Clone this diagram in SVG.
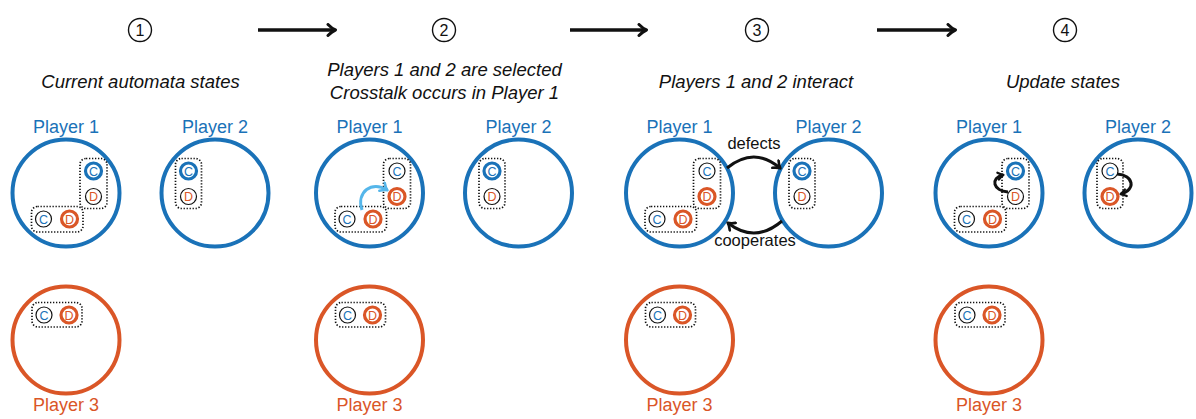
<svg xmlns="http://www.w3.org/2000/svg" width="1196" height="419" viewBox="0 0 1196 419">
  <style>
    .bg { fill: #ffffff; }
    .p1, .p2 { fill: none; stroke: #1a72b8; stroke-width: 4; }
    .p3 { fill: none; stroke: #da5627; stroke-width: 4; }
    .lblB { font-family: "Liberation Sans", Arial, sans-serif; font-size: 18px; fill: #1a72b8; text-anchor: middle; }
    .lblO { font-family: "Liberation Sans", Arial, sans-serif; font-size: 18px; fill: #da5627; text-anchor: middle; }
    .cap { font-family: "Liberation Sans", Arial, sans-serif; font-size: 18.5px; font-style: italic; fill: #111; text-anchor: middle; }
    .num { font-family: "Liberation Sans", Arial, sans-serif; font-size: 16px; fill: #111; text-anchor: middle; }
    .ring { fill: #fff; stroke: #111; stroke-width: 1.4; }
    .box { fill: none; stroke: #111; stroke-width: 1.7; stroke-dasharray: 1.3 1.7; }
    .thin { fill: #fff; stroke: #111; stroke-width: 1.2; }
    .thickC { fill: #fff; stroke: #1a72b8; stroke-width: 3.2; }
    .thickD { fill: #fff; stroke: #da5627; stroke-width: 3.2; }
    .sC { font-family: "Liberation Sans", Arial, sans-serif; font-size: 12.5px; fill: #1a72b8; text-anchor: middle; }
    .sD { font-family: "Liberation Sans", Arial, sans-serif; font-size: 12.5px; fill: #da5627; text-anchor: middle; }
    .flow { fill: none; stroke: #111; stroke-width: 3.6; }
    .act { fill: none; stroke: #111; stroke-width: 3; }
    .xtalk { fill: none; stroke: #55b6ea; stroke-width: 3; }
    .edge { font-family: "Liberation Sans", Arial, sans-serif; font-size: 16.5px; fill: #111; text-anchor: middle; }
  </style>
  <defs>
    <marker id="headK" viewBox="0 0 12 12" refX="9.5" refY="6" markerWidth="12" markerHeight="12" markerUnits="userSpaceOnUse" orient="auto">
      <path d="M3.5 1.2 Q7 4.8 10 6 Q7 7.2 3.5 10.8" fill="none" stroke="#111" stroke-width="2.6" stroke-linecap="round" stroke-linejoin="round"/>
    </marker>
    <marker id="headF" viewBox="0 0 14 14" refX="11.5" refY="7" markerWidth="14" markerHeight="14" markerUnits="userSpaceOnUse" orient="auto">
      <path d="M4.5 1.5 Q8.5 5.6 12 7 Q8.5 8.4 4.5 12.5" fill="none" stroke="#111" stroke-width="3" stroke-linecap="round" stroke-linejoin="round"/>
    </marker>
    <marker id="headL" viewBox="0 0 12 12" refX="9.5" refY="6" markerWidth="12" markerHeight="12" markerUnits="userSpaceOnUse" orient="auto">
      <path d="M3.5 1.2 Q7 4.8 10 6 Q7 7.2 3.5 10.8" fill="none" stroke="#55b6ea" stroke-width="2.6" stroke-linecap="round" stroke-linejoin="round"/>
    </marker>
    <marker id="headS" viewBox="0 0 10 10" refX="8" refY="5" markerWidth="10" markerHeight="10" markerUnits="userSpaceOnUse" orient="auto">
      <path d="M3 1.5 Q6 4 8.5 5 Q6 6 3 8.5" fill="none" stroke="#111" stroke-width="2.2" stroke-linecap="round" stroke-linejoin="round"/>
    </marker>
  </defs>

  <rect class="bg" x="0" y="0" width="1196" height="419"/>

  <!-- step headers -->
  <g id="step1">
    <circle class="ring" cx="140" cy="30" r="11.5"/>
    <text class="num" x="140" y="35.8">1</text>
    <text class="cap" x="140.5" y="87.5">Current automata states</text>
  </g>
  <g id="step2">
    <circle class="ring" cx="444" cy="30" r="11.5"/>
    <text class="num" x="444" y="35.8">2</text>
    <text class="cap" x="444.5" y="75.5">Players 1 and 2 are selected</text>
    <text class="cap" x="444.5" y="98.5">Crosstalk occurs in Player 1</text>
  </g>
  <g id="step3">
    <circle class="ring" cx="757" cy="30" r="11.5"/>
    <text class="num" x="757" y="35.8">3</text>
    <text class="cap" x="756" y="87.5">Players 1 and 2 interact</text>
  </g>
  <g id="step4">
    <circle class="ring" cx="1065" cy="30" r="11.5"/>
    <text class="num" x="1065" y="35.8">4</text>
    <text class="cap" x="1063" y="87.5">Update states</text>
  </g>

  <!-- panel 1 -->
  <g id="panel1">
    <g id="s1-player1">
      <text class="lblB" x="66" y="133">Player 1</text>
      <circle class="p1" cx="66" cy="193" r="53.5"/>
      <rect class="box" x="80" y="158.5" width="27" height="50" rx="6"/>
      <rect class="box" x="31.5" y="206.5" width="51.5" height="25.5" rx="6"/>
      <circle class="thickC" cx="93.5" cy="171" r="8"/><text class="sC" x="93.5" y="175.5">C</text>
      <circle class="thin" cx="93.5" cy="196.5" r="8"/><text class="sD" x="93.5" y="201">D</text>
      <circle class="thin" cx="43.5" cy="219" r="8"/><text class="sC" x="43.5" y="223.5">C</text>
      <circle class="thickD" cx="69.5" cy="219" r="8"/><text class="sD" x="69.5" y="223.5">D</text>
    </g>
    <g id="s1-player2">
      <text class="lblB" x="215" y="133">Player 2</text>
      <circle class="p2" cx="215" cy="193" r="53.5"/>
      <rect class="box" x="175.5" y="158.5" width="26" height="50" rx="6"/>
      <circle class="thickC" cx="188.5" cy="171" r="8"/><text class="sC" x="188.5" y="175.5">C</text>
      <circle class="thin" cx="188.5" cy="196.5" r="8"/><text class="sD" x="188.5" y="201">D</text>
    </g>
    <g id="s1-player3">
      <circle class="p3" cx="66" cy="340" r="53.5"/>
      <rect class="box" x="32" y="302.5" width="50" height="24.5" rx="6"/>
      <circle class="thin" cx="44" cy="315" r="8"/><text class="sC" x="44" y="319.5">C</text>
      <circle class="thickD" cx="69" cy="315" r="8"/><text class="sD" x="69" y="319.5">D</text>
      <text class="lblO" x="66" y="411">Player 3</text>
    </g>
  </g>

  <!-- panel 2 -->
  <g id="panel2" transform="translate(303.5,0)">
    <g id="s2-player1">
      <text class="lblB" x="66" y="133">Player 1</text>
      <circle class="p1" cx="66" cy="193" r="53.5"/>
      <rect class="box" x="80" y="158.5" width="27" height="50" rx="6"/>
      <rect class="box" x="31.5" y="206.5" width="51.5" height="25.5" rx="6"/>
      <circle class="thin" cx="93.5" cy="171" r="8"/><text class="sC" x="93.5" y="175.5">C</text>
      <circle class="thickD" cx="93.5" cy="196.5" r="8"/><text class="sD" x="93.5" y="201">D</text>
      <circle class="thin" cx="43.5" cy="219" r="8"/><text class="sC" x="43.5" y="223.5">C</text>
      <circle class="thickD" cx="69.5" cy="219" r="8"/><text class="sD" x="69.5" y="223.5">D</text>
    </g>
    <g id="s2-player2">
      <text class="lblB" x="215" y="133">Player 2</text>
      <circle class="p2" cx="215" cy="193" r="53.5"/>
      <rect class="box" x="175.5" y="158.5" width="26" height="50" rx="6"/>
      <circle class="thickC" cx="188.5" cy="171" r="8"/><text class="sC" x="188.5" y="175.5">C</text>
      <circle class="thin" cx="188.5" cy="196.5" r="8"/><text class="sD" x="188.5" y="201">D</text>
    </g>
    <g id="s2-player3">
      <circle class="p3" cx="66" cy="340" r="53.5"/>
      <rect class="box" x="32" y="302.5" width="50" height="24.5" rx="6"/>
      <circle class="thin" cx="44" cy="315" r="8"/><text class="sC" x="44" y="319.5">C</text>
      <circle class="thickD" cx="69" cy="315" r="8"/><text class="sD" x="69" y="319.5">D</text>
      <text class="lblO" x="66" y="411">Player 3</text>
    </g>
  </g>

  <!-- panel 3 -->
  <g id="panel3" transform="translate(613.5,0)">
    <g id="s3-player1">
      <text class="lblB" x="66" y="133">Player 1</text>
      <circle class="p1" cx="66" cy="193" r="53.5"/>
      <rect class="box" x="80" y="158.5" width="27" height="50" rx="6"/>
      <rect class="box" x="31.5" y="206.5" width="51.5" height="25.5" rx="6"/>
      <circle class="thin" cx="93.5" cy="171" r="8"/><text class="sC" x="93.5" y="175.5">C</text>
      <circle class="thickD" cx="93.5" cy="196.5" r="8"/><text class="sD" x="93.5" y="201">D</text>
      <circle class="thin" cx="43.5" cy="219" r="8"/><text class="sC" x="43.5" y="223.5">C</text>
      <circle class="thickD" cx="69.5" cy="219" r="8"/><text class="sD" x="69.5" y="223.5">D</text>
    </g>
    <g id="s3-player2">
      <text class="lblB" x="215" y="133">Player 2</text>
      <circle class="p2" cx="215" cy="193" r="53.5"/>
      <rect class="box" x="175.5" y="158.5" width="26" height="50" rx="6"/>
      <circle class="thickC" cx="188.5" cy="171" r="8"/><text class="sC" x="188.5" y="175.5">C</text>
      <circle class="thin" cx="188.5" cy="196.5" r="8"/><text class="sD" x="188.5" y="201">D</text>
    </g>
    <g id="s3-player3">
      <circle class="p3" cx="66" cy="340" r="53.5"/>
      <rect class="box" x="32" y="302.5" width="50" height="24.5" rx="6"/>
      <circle class="thin" cx="44" cy="315" r="8"/><text class="sC" x="44" y="319.5">C</text>
      <circle class="thickD" cx="69" cy="315" r="8"/><text class="sD" x="69" y="319.5">D</text>
      <text class="lblO" x="66" y="411">Player 3</text>
    </g>
  </g>

  <!-- panel 4 -->
  <g id="panel4" transform="translate(923,0)">
    <g id="s4-player1">
      <text class="lblB" x="66" y="133">Player 1</text>
      <circle class="p1" cx="66" cy="193" r="53.5"/>
      <rect class="box" x="79" y="158.5" width="27" height="50" rx="6"/>
      <rect class="box" x="31.5" y="206.5" width="51.5" height="25.5" rx="6"/>
      <circle class="thickC" cx="92.5" cy="171" r="8"/><text class="sC" x="92.5" y="175.5">C</text>
      <circle class="thin" cx="92.5" cy="196.5" r="8"/><text class="sD" x="92.5" y="201">D</text>
      <circle class="thin" cx="43.5" cy="219" r="8"/><text class="sC" x="43.5" y="223.5">C</text>
      <circle class="thickD" cx="69.5" cy="219" r="8"/><text class="sD" x="69.5" y="223.5">D</text>
    </g>
    <g id="s4-player2">
      <text class="lblB" x="215" y="133">Player 2</text>
      <circle class="p2" cx="215" cy="193" r="53.5"/>
      <rect class="box" x="174" y="158.5" width="26" height="50" rx="6"/>
      <circle class="thin" cx="187" cy="171" r="8"/><text class="sC" x="187" y="175.5">C</text>
      <circle class="thickD" cx="187" cy="196.5" r="8"/><text class="sD" x="187" y="201">D</text>
    </g>
    <g id="s4-player3">
      <circle class="p3" cx="66" cy="340" r="53.5"/>
      <rect class="box" x="32" y="302.5" width="50" height="24.5" rx="6"/>
      <circle class="thin" cx="44" cy="315" r="8"/><text class="sC" x="44" y="319.5">C</text>
      <circle class="thickD" cx="69" cy="315" r="8"/><text class="sD" x="69" y="319.5">D</text>
      <text class="lblO" x="66" y="411">Player 3</text>
    </g>
  </g>

  <!-- connectors -->
  <g id="connectors">
    <path class="flow" d="M258 30 H335" marker-end="url(#headF)"/>
    <path class="flow" d="M570 30 H646" marker-end="url(#headF)"/>
    <path class="flow" d="M877 30 H955" marker-end="url(#headF)"/>

    <path class="xtalk" d="M362 210 C356 192 372 180 387 190" marker-end="url(#headL)"/>

    <path class="act" d="M727 168 Q754 146 780 168" marker-end="url(#headK)"/>
    <text class="edge" x="754" y="149">defects</text>
    <path class="act" d="M782 221 Q755 244 728 223" marker-end="url(#headK)"/>
    <text class="edge" x="755" y="246">cooperates</text>

    <path class="act" d="M1008 192 C993 191 990 178 1003 175" marker-end="url(#headS)"/>
    <path class="act" d="M1117 174 C1134 175 1136 190 1121 194" marker-end="url(#headS)"/>
  </g>
</svg>
